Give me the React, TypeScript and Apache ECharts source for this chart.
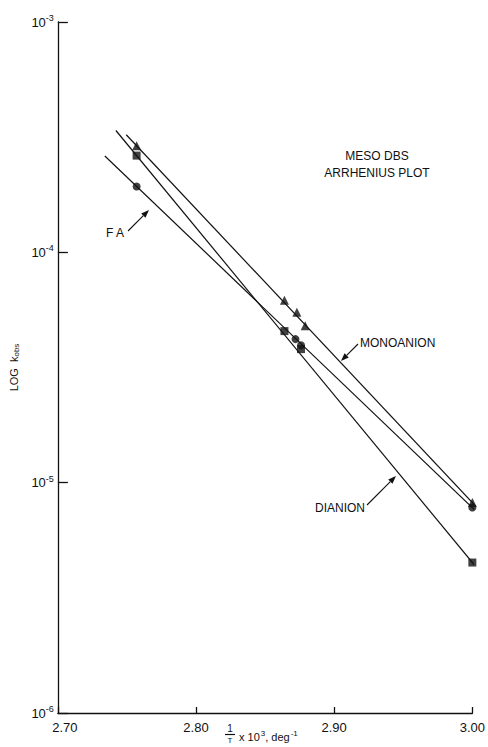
import React, { useEffect, useRef } from "react";
import * as echarts from "echarts";

// ---- data ----
const xTicks = [2.7, 2.8, 2.9, 3.0];
const monoX = [2.757, 2.864, 2.873, 2.879, 3.0];
const monoK = [2.9e-4, 6.2e-5, 5.5e-5, 4.8e-5, 8.2e-6];
const dianX = [2.757, 2.864, 2.876, 3.0];
const dianK = [2.63e-4, 4.55e-5, 3.8e-5, 4.5e-6];
const faX = [2.757, 2.872, 2.876, 3.0];
const faK = [1.93e-4, 4.2e-5, 3.95e-5, 7.8e-6];
// fitted straight lines (end points)
const monoLineX = [2.7495, 3.007];
const monoLineK = [3.24e-4, 7.4e-6];
const dianLineX = [2.742, 3.003];
const dianLineK = [3.38e-4, 4.28e-6];
const faLineX = [2.734, 3.007];
const faLineK = [2.62e-4, 7.1e-6];

const INK = "#111";
const FONT = "Liberation Sans";

function pairs(xs: number[], ys: number[]) {
  return xs.map((x, i) => [x, ys[i]]);
}

function arrow(x1: number, y1: number, x2: number, y2: number) {
  const ang = Math.atan2(y2 - y1, x2 - x1);
  const L = 8, Wd = 3;
  const bx = x2 - L * Math.cos(ang), by = y2 - L * Math.sin(ang);
  const px = -Math.sin(ang) * Wd, py = Math.cos(ang) * Wd;
  return [
    { type: "line", shape: { x1, y1, x2: bx, y2: by }, style: { stroke: INK, lineWidth: 1.1 } },
    {
      type: "polygon",
      shape: { points: [[x2, y2], [bx + px, by + py], [bx - px, by - py]] },
      style: { fill: INK },
    },
  ];
}

export default function App() {
  const ref = useRef<HTMLDivElement>(null);
  useEffect(() => {
    document.body.style.margin = "0";
    const chart = echarts.init(ref.current!, null, { renderer: "svg" });
    const txt = (x: number, y: number, s: string, extra: any = {}) => ({
      type: "text",
      x,
      y,
      style: { text: s, fill: INK, font: `12px "${FONT}"`, textVerticalAlign: "middle", ...extra },
    });
    chart.setOption({
      animation: false,
      backgroundColor: "#fff",
      grid: { left: 51, right: 14, top: 22, bottom: 34 },
      xAxis: {
        type: "value",
        min: 2.7,
        max: 3.0,
        interval: 0.1,
        axisLine: { show: true, lineStyle: { color: INK, width: 1.3 } },
        axisTick: { show: true, inside: true, length: 6, lineStyle: { color: INK, width: 1.3 } },
        splitLine: { show: false },
        axisLabel: {
          color: INK,
          fontFamily: FONT,
          fontSize: 13,
          margin: 8,
          formatter: (v: number) => {
            const s = v.toFixed(2);
            return Math.abs(v - xTicks[0]) < 1e-6 ? `{f|${s}}` : s;
          },
          rich: { f: { fontFamily: FONT, fontSize: 13, color: INK, padding: [0, 0, 0, 14] } },
        },
      },
      yAxis: {
        type: "log",
        logBase: 10,
        min: 1e-6,
        max: 1e-3,
        axisLine: { show: true, lineStyle: { color: INK, width: 1.3 } },
        axisTick: { show: true, inside: true, length: 10, lineStyle: { color: INK, width: 1.3 } },
        minorTick: { show: false },
        splitLine: { show: false },
        axisLabel: {
          color: INK,
          margin: 4,
          formatter: (v: number) => `{b|10}{s|-${-Math.round(Math.log10(v))}}`,
          rich: {
            b: { fontFamily: FONT, fontSize: 13, color: INK },
            s: { fontFamily: FONT, fontSize: 9, color: INK, padding: [0, 0, 8, 0] },
          },
        },
        name: "{a|LOG  k}{o|obs}",
        nameLocation: "middle",
        nameRotate: 90,
        nameGap: 32,
        nameTextStyle: {
          rich: {
            a: { fontFamily: FONT, fontSize: 11, color: INK },
            o: { fontFamily: FONT, fontSize: 8, color: INK, padding: [6, 0, 0, 0] },
          },
        },
      },
      series: [
        { type: "line", data: pairs(monoLineX, monoLineK), symbol: "none", lineStyle: { color: INK, width: 1.2 }, silent: true },
        { type: "line", data: pairs(dianLineX, dianLineK), symbol: "none", lineStyle: { color: INK, width: 1.2 }, silent: true },
        { type: "line", data: pairs(faLineX, faLineK), symbol: "none", lineStyle: { color: INK, width: 1.2 }, silent: true },
        { type: "scatter", name: "MONOANION", data: pairs(monoX, monoK), symbol: "triangle", symbolSize: 9, itemStyle: { color: INK } },
        { type: "scatter", name: "DIANION", data: pairs(dianX, dianK), symbol: "rect", symbolSize: 8, itemStyle: { color: INK } },
        { type: "scatter", name: "FA", data: pairs(faX, faK), symbol: "circle", symbolSize: 8, itemStyle: { color: INK } },
      ],
      graphic: [
        txt(377, 156, "MESO DBS", { textAlign: "center", font: `12px "${FONT}"` }),
        txt(377, 173, "ARRHENIUS PLOT", { textAlign: "center", font: `12px "${FONT}"` }),
        txt(360, 343, "MONOANION"),
        ...arrow(358, 344, 341, 361),
        txt(365, 508, "DIANION", { textAlign: "right" }),
        ...arrow(367, 505, 396, 476),
        txt(106, 233, "F A"),
        ...arrow(128, 231, 149, 210),
        // x axis name: 1/T x 10^3, deg^-1
        txt(230, 728, "1", { textAlign: "center", font: `10px "${FONT}"` }),
        { type: "line", shape: { x1: 225, y1: 734.5, x2: 235, y2: 734.5 }, style: { stroke: INK, lineWidth: 1.2 } },
        txt(230, 740, "T", { textAlign: "center", font: `8px "${FONT}"` }),
        {
          type: "text",
          x: 239,
          y: 737,
          style: {
            text: "{m|x 10}{s|3}{m|, deg}{s|-1}",
            textVerticalAlign: "middle",
            rich: {
              m: { fontFamily: FONT, fontSize: 11, fill: INK },
              s: { fontFamily: FONT, fontSize: 8, fill: INK, padding: [0, 0, 8, 1] },
            },
          },
        },
      ],
    });
    return () => chart.dispose();
  }, []);
  return <div ref={ref} style={{ position: "absolute", left: 0, top: 0, width: 488, height: 747 }} />;
}
